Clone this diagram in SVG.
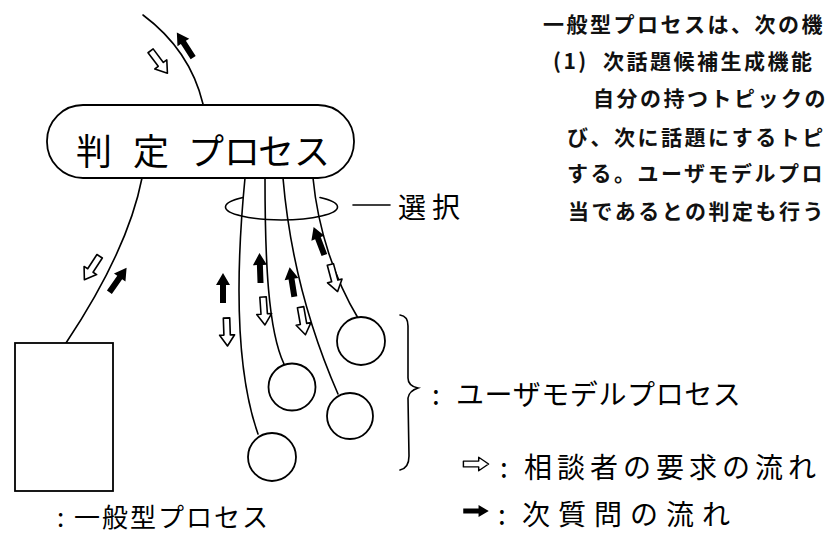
<svg xmlns="http://www.w3.org/2000/svg" xmlns:xlink="http://www.w3.org/1999/xlink" width="832" height="536" viewBox="0 0 832 536">
<defs>
<style>
.ln{fill:none;stroke:#000;stroke-width:1.6;stroke-linecap:round}
.nd{fill:#fff;stroke:#000;stroke-width:1.8}
.pr{font-family:"Noto Sans CJK JP","Noto Sans CJK SC",sans-serif;font-weight:700;font-size:21px;letter-spacing:2.5px;fill:#111}
.hw{font-family:"Noto Sans CJK JP","Noto Sans CJK SC",sans-serif;font-weight:400;fill:#000}
</style>
<path id="blk" d="M0,-15 L7,-3 L3,-3 L3,15 L-3,15 L-3,-3 L-7,-3 Z" fill="#000"/>
<path id="hol" d="M0,-14 L7.5,-3 L3.2,-3 L3.2,14 L-3.2,14 L-3.2,-3 L-7.5,-3 Z" fill="#fff" stroke="#000" stroke-width="1.6" stroke-linejoin="round"/>
</defs>
<rect width="832" height="536" fill="#fff"/>

<g id="prose">
<text class="pr" x="543" y="32">一般型プロセスは、次の機</text>
<text class="pr" y="69"><tspan x="553">(1)</tspan><tspan x="603">次話題候補生成機能</tspan></text>
<text class="pr" x="593" y="106">自分の持つトピックの</text>
<text class="pr" x="567" y="145">び、次に話題にするトピ</text>
<text class="pr" x="567" y="181">する。ユーザモデルプロ</text>
<text class="pr" x="568" y="219">当であるとの判定も行う</text>
</g>

<g id="connectors">
<path class="ln" d="M143,15 Q190,50 203,104"/>
<path class="ln" d="M142,178 Q128,250 66,343"/>
<path class="ln" d="M245,178 C238,250 232,360 258,434"/>
<path class="ln" d="M265,178 C265,260 268,330 284,364"/>
<path class="ln" d="M283,178 C290,260 310,330 338,394"/>
<path class="ln" d="M313,178 C318,230 335,280 358,318"/>
<path class="ln" d="M243,197.5 A56,13 0 1 0 320,197.5"/>
<line class="ln" x1="353" y1="205" x2="390" y2="205"/>
<path class="ln" d="M400,315 Q408,316 408,326 L408,378 Q408,386 418,388 Q409,391 408,398 L409,456 Q409,468 400,470"/>
</g>

<g id="arrows">
<use xlink:href="#hol" transform="translate(159,62) rotate(143)"/>
<use xlink:href="#blk" transform="translate(185,45) rotate(-33)"/>
<use xlink:href="#hol" transform="translate(92,268) rotate(-147)"/>
<use xlink:href="#blk" transform="translate(118,280) rotate(35)"/>
<use xlink:href="#blk" transform="translate(223,288)"/>
<use xlink:href="#hol" transform="translate(227,332) rotate(178)"/>
<use xlink:href="#blk" transform="translate(260,268) rotate(-2)"/>
<use xlink:href="#hol" transform="translate(264,311) rotate(176)"/>
<use xlink:href="#blk" transform="translate(292,282) rotate(-9)"/>
<use xlink:href="#hol" transform="translate(303,321) rotate(170)"/>
<use xlink:href="#blk" transform="translate(319,241) rotate(-21)"/>
<use xlink:href="#hol" transform="translate(334,278) rotate(165)"/>
</g>

<g id="judge">
<rect class="nd" x="47" y="105" width="307" height="73" rx="36" ry="36"/>
<text class="hw" font-size="36" x="76 133 188 224 258 294" y="165">判定プロセス</text>
</g>

<g id="general">
<rect class="nd" x="15" y="343" width="98" height="148"/>
</g>

<g id="user1"><circle class="nd" cx="272" cy="457" r="24"/></g>
<g id="user2"><circle class="nd" cx="292" cy="387" r="23.5"/></g>
<g id="user3"><circle class="nd" cx="350" cy="416" r="23"/></g>
<g id="user4"><circle class="nd" cx="361" cy="341" r="24"/></g>

<g id="labels">
<text class="hw" font-size="28" x="398" y="218" letter-spacing="6">選択</text>
<text class="hw" font-size="28" x="432" y="405">:</text>
<text class="hw" font-size="28" x="456" y="405" letter-spacing="0.6">ユーザモデルプロセス</text>
<use xlink:href="#hol" transform="translate(476,464) rotate(90) scale(0.9)"/>
<text class="hw" font-size="28" x="500" y="478">:</text>
<text class="hw" font-size="28" x="524" y="478" letter-spacing="5">相談者の要求の流れ</text>
<use xlink:href="#blk" transform="translate(476,511) rotate(90) scale(0.85)"/>
<text class="hw" font-size="28" x="498" y="525">:</text>
<text class="hw" font-size="28" x="522" y="525" letter-spacing="8">次質問の流れ</text>
<text class="hw" font-size="26" x="57" y="527">:</text>
<text class="hw" font-size="26" x="74" y="527" letter-spacing="2">一般型プロセス</text>
</g>
</svg>
